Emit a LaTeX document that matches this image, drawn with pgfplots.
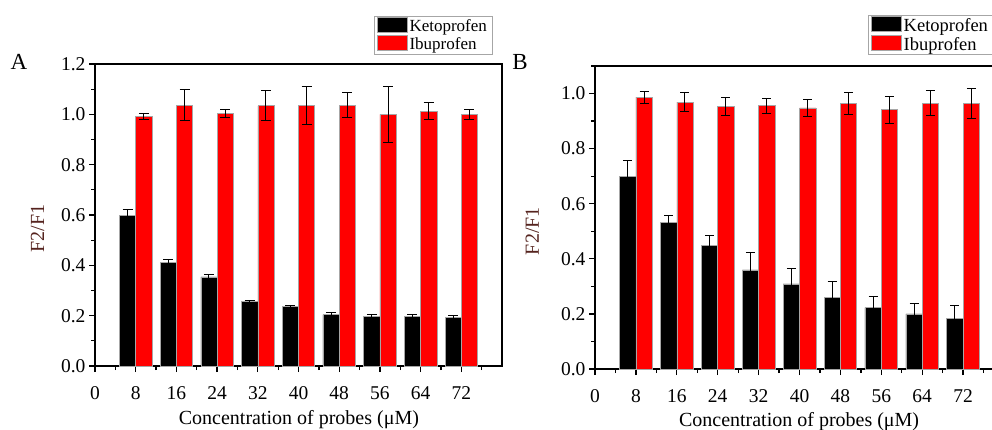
\documentclass[border=0pt]{standalone}
\usepackage{pgfplots}
\pgfplotsset{compat=1.18}
\usepackage{pgfplotstable}
\usepackage{fontspec}
\setmainfont{Liberation Serif}
\definecolor{ylab}{RGB}{85,35,30}
\definecolor{barred}{RGB}{255,0,0}

\pgfplotstableread{
x y e
8 0.600 0.022
16 0.413 0.011
24 0.354 0.010
32 0.256 0.003
40 0.236 0.005
48 0.204 0.008
56 0.197 0.007
64 0.196 0.007
72 0.193 0.009
}\Aketo
\pgfplotstableread{
x y e
8 0.991 0.011
16 1.037 0.061
24 1.004 0.017
32 1.034 0.059
40 1.034 0.075
48 1.037 0.048
56 1.000 0.110
64 1.013 0.033
72 1.000 0.021
}\Aibu
\pgfplotstableread{
x y e
8 0.700 0.058
16 0.533 0.026
24 0.448 0.036
32 0.360 0.062
40 0.309 0.057
48 0.261 0.057
56 0.223 0.040
64 0.200 0.036
72 0.184 0.045
}\Bketo
\pgfplotstableread{
x y e
8 0.987 0.022
16 0.969 0.033
24 0.954 0.032
32 0.956 0.027
40 0.948 0.030
48 0.964 0.039
56 0.942 0.049
64 0.965 0.046
72 0.963 0.054
}\Bibu

\pgfplotsset{
  panel/.style={
    scale only axis, xmin=0, xmax=80, ymin=0,
    axis line style={line width=1.7pt},
    xtick={0,8,...,72}, minor xtick={4,12,...,80},
    tick align=outside, major tick length=6pt, minor tick length=4pt,
    every tick/.style={line width=1.3pt, black},
    xtick pos=bottom, ytick pos=left,
    /pgf/number format/assume math mode=true,
    yticklabel style={/pgf/number format/fixed, /pgf/number format/fixed zerofill, /pgf/number format/precision=1},
    ticklabel style={font=\fontsize{19.5}{22}\selectfont},
    xticklabel style={yshift=-11pt},
    label style={font=\fontsize{20}{24}\selectfont},
    xlabel={Concentration of probes (μM)},
    ylabel={\color{ylab}F2/F1},
    legend cell align=left,
  },
  ketobar/.style={ybar, bar width=3.2, bar shift=0, fill=black, draw=gray!70, line width=0.6pt,
    legend image code/.code={\draw[fill=black, draw=gray!70, line width=0.6pt] (0pt,-6pt) rectangle (30pt,9pt);},
    error bars/.cd, y dir=both, y explicit,
    error bar style={line width=1pt, black},
    error mark options={rotate=90, mark size=#1, line width=1pt, black}},
  ketobar/.default=5pt,
  ibubar/.style={ybar, bar width=3.2, bar shift=0, fill=barred, draw=gray!70, line width=0.6pt,
    legend image code/.code={\draw[fill=barred, draw=gray!70, line width=0.6pt] (0pt,-6pt) rectangle (30pt,9pt);},
    error bars/.cd, y dir=both, y explicit,
    error bar style={line width=1pt, black},
    error mark options={rotate=90, mark size=#1, line width=1pt, black}},
  ibubar/.default=5pt,
}

\begin{document}
\begin{tikzpicture}
\path[use as bounding box] (0,0) rectangle (992pt,429pt);
\clip (0,0) rectangle (992pt,429pt);
% Panel A
\begin{axis}[panel, at={(95pt,63pt)}, anchor=south west,
  width=407pt, height=302pt, ymax=1.2,
  ytick={0,0.2,...,1.2}, minor ytick={0.1,0.3,...,1.1},
  xlabel style={at={(axis description cs:0.501,-0.179)}, anchor=center},
  ylabel style={at={(axis description cs:-0.141,0.455)}, anchor=center},
  legend style={at={(0.976,1.159)}, anchor=north east, draw=gray!70, line width=0.6pt,
    font=\fontsize{17}{21}\selectfont, inner xsep=3pt, inner ysep=1pt, row sep=0pt},
]
\addplot[ketobar] table[x expr=\thisrow{x}-1.6, y=y, y error=e] {\Aketo};
\addplot[ibubar] table[x expr=\thisrow{x}+1.6, y=y, y error=e] {\Aibu};
\legend{Ketoprofen, Ibuprofen}
\end{axis}
% Panel B
\begin{axis}[panel, at={(595pt,60pt)}, anchor=south west,
  width=409pt, height=303pt, ymax=1.1,
  ytick={0,0.2,...,1.0}, minor ytick={0.1,0.3,...,1.1},
  xlabel style={at={(axis description cs:0.499,-0.172)}, anchor=center},
  ylabel style={at={(axis description cs:-0.153,0.455)}, anchor=center},
  legend style={at={(0.667,1.168)}, anchor=north west, draw=gray!70, line width=0.6pt,
    font=\fontsize{18.5}{23.5}\selectfont, inner xsep=3pt, inner ysep=1pt, row sep=0pt},
]
\addplot[ketobar=4.5pt] table[x expr=\thisrow{x}-1.6, y=y, y error=e] {\Bketo};
\addplot[ibubar=4.5pt] table[x expr=\thisrow{x}+1.6, y=y, y error=e] {\Bibu};
\legend{Ketoprofen, Ibuprofen}
\end{axis}
\node[font=\fontsize{23}{26}\selectfont] at (19pt,367pt) {A};
\node[font=\fontsize{23}{26}\selectfont] at (520pt,367pt) {B};
\end{tikzpicture}
\end{document}
